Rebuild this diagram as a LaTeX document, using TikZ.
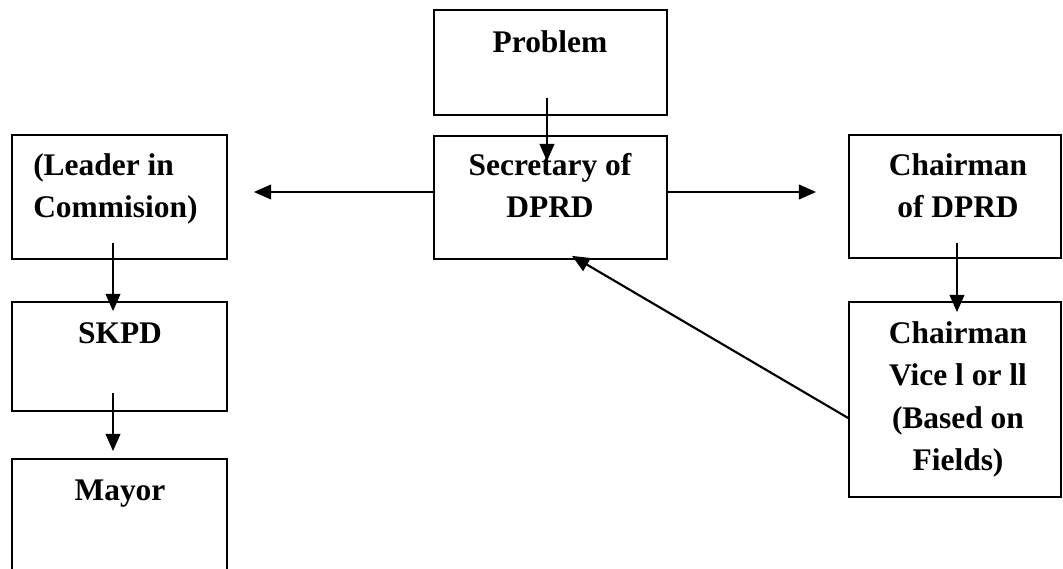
\documentclass[tikz,border=0pt]{standalone}
\usepackage{fontspec}
\setmainfont{Liberation Serif}
\usetikzlibrary{arrows.meta,calc}
\tikzset{
  box/.style={draw, line width=1.3pt, rectangle, inner sep=0pt},
  lbl/.style={inner sep=0pt, font=\fontsize{23.6pt}{31.9pt}\selectfont\bfseries},
  arr/.style={line width=1.6pt, -{Triangle[length=13pt,width=11pt]}}
}
\newcommand{\ctext}[1]{\begin{tabular}[t]{@{}c@{}}#1\end{tabular}}
\newcommand{\ltext}[1]{\begin{tabular}[t]{@{}l@{}}#1\end{tabular}}
\begin{document}
\begin{tikzpicture}[x=0.75pt,y=-0.75pt]
\path[use as bounding box, clip] (0,0) rectangle (1063,568);
\fill[white] (0,0) rectangle (1063,568);
% boxes
\node[box, minimum width=174.75pt, minimum height=78.75pt] (prob) at (550.5,62.5) {};
\node[box, minimum width=174.75pt, minimum height=92.25pt] (sec) at (550.5,197.5) {};
\node[box, minimum width=161.25pt, minimum height=93pt] (lead) at (119.5,197) {};
\node[box, minimum width=161.25pt, minimum height=81.75pt] (skpd) at (119.5,356.5) {};
\node[box, minimum width=161.25pt, minimum height=112.5pt] (mayor) at (119.5,534) {};
\node[box, minimum width=159pt, minimum height=92.25pt] (chair) at (955,196.5) {};
\node[box, minimum width=159pt, minimum height=146.25pt] (vice) at (955,399.5) {};
% texts
\node[lbl, anchor=base] (probT) at (550,52) {\ctext{Problem}};
\node[lbl, anchor=base] (secT) at (550,175) {\ctext{Secretary of\\DPRD}};
\node[lbl, anchor=base west] (leadT) at (33,175) {\ltext{(Leader in\\Commision)}};
\node[lbl, anchor=base] (skpdT) at (120,343) {\ctext{SKPD}};
\node[lbl, anchor=base] (mayorT) at (120,500) {\ctext{Mayor}};
\node[lbl, anchor=base] (chairT) at (958,175) {\ctext{Chairman\\of DPRD}};
\node[lbl, anchor=base] (viceT) at (958,343) {\ctext{Chairman\\Vice l or ll\\(Based on\\Fields)}};
% connectors
\draw[arr] ($(prob.south)+(-3.5,-18)$) -- ($(sec.north)+(-3.5,26)$);
\draw[arr] ($(sec.west)+(0,-5.5)$) -- ($(lead.east)+(26,-5)$);
\draw[arr] ($(sec.east)+(0,-5.5)$) -- ($(chair.west)+(-32,-4.5)$);
\draw[arr] ($(lead.south)+(-6.5,-17)$) -- ($(skpd.north)+(-6.5,10)$);
\draw[arr] ($(skpd.south)+(-6.5,-19)$) -- ($(mayor.north)+(-6.5,-7)$);
\draw[arr] ($(chair.south)+(2,-16)$) -- ($(vice.north)+(2,11)$);
\draw[arr] ($(vice.west)+(0,18.5)$) -- ($(sec.south)+(21.5,-4)$);
\end{tikzpicture}
\end{document}
